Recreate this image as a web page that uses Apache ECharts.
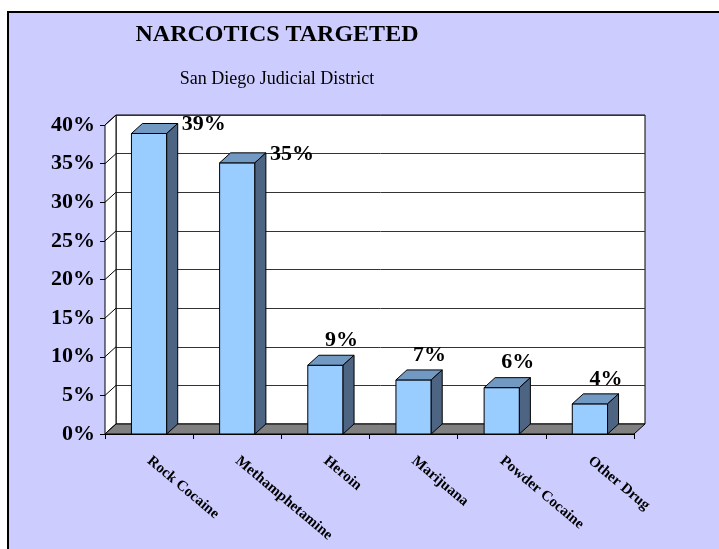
<!DOCTYPE html>
<html>
<head>
<meta charset="utf-8">
<script src="https://cdn.jsdelivr.net/npm/echarts@6/dist/echarts.min.js"></script>
<style>
html, body { margin: 0; padding: 0; background: #fff; }
#chart { width: 719px; height: 549px; }
</style>
</head>
<body>
<div id="chart"></div>
<script>
var categories = ['Rock Cocaine', 'Methamphetamine', 'Heroin', 'Marijuana', 'Powder Cocaine', 'Other Drug'];
var shares = [38.9, 35.1, 8.9, 7.0, 6.0, 3.9];
var yMin = 0, yMax = 40, yStep = 5;

// depth of the fake 3d box, in pixels
var DX = 11, DY = 10;
var SERIF = '"Liberation Serif", "Times New Roman", serif';

var chart = echarts.init(document.getElementById('chart'));

function renderWalls(params, api) {
	var cs = params.coordSys;
	var x0 = cs.x, x1 = cs.x + cs.width;
	var yt = cs.y, yb = cs.y + cs.height;
	var kids = [];
	// left wall
	kids.push({
		type : 'polygon',
		shape : { points : [ [x0, yb], [x0, yt], [x0 + DX, yt - DY], [x0 + DX, yb - DY] ] },
		style : { fill : '#fff', stroke : '#000', lineWidth : 1 }
	});
	for (var v = yMin; v <= yMax; v += yStep) {
		var y = api.coord([0, v])[1];
		kids.push({
			type : 'line',
			shape : { x1 : x0, y1 : y, x2 : x0 + DX, y2 : y - DY },
			style : { stroke : '#000', lineWidth : 1 }
		});
	}
	// floor
	kids.push({
		type : 'polygon',
		shape : { points : [ [x0, yb], [x0 + DX, yb - DY], [x1 + DX, yb - DY], [x1, yb] ] },
		style : { fill : '#808080', stroke : '#000', lineWidth : 1 }
	});
	return { type : 'group', children : kids };
}

function renderBar(params, api) {
	var v = api.value(1);
	var base = api.coord([api.value(0), 0]);
	var top = api.coord([api.value(0), v]);
	var w = api.size([1, 0])[0] * 0.4;
	var l = base[0] - w / 2, r = base[0] + w / 2;
	var yb = base[1], yt = top[1];
	var lbl;
	if (v > 30) {
		// tall bars: label sits beside the top
		lbl = { x : r + DX + 4, y : yt - 9, align : 'left' };
	} else {
		lbl = { x : base[0] + 16, y : yt - 25, align : 'center' };
	}
	return {
		type : 'group',
		children : [ {
			type : 'rect',
			shape : { x : l, y : yt, width : w, height : yb - yt },
			style : { fill : '#99CCFF', stroke : '#000', lineWidth : 1 }
		}, {
			type : 'polygon',
			shape : { points : [ [l, yt], [l + DX, yt - DY], [r + DX, yt - DY], [r, yt] ] },
			style : { fill : '#7199C2', stroke : '#000', lineWidth : 1 }
		}, {
			type : 'polygon',
			shape : { points : [ [r, yt], [r + DX, yt - DY], [r + DX, yb - DY], [r, yb] ] },
			style : { fill : '#4D6482', stroke : '#000', lineWidth : 1 }
		}, {
			type : 'text',
			style : {
				text : Math.round(v) + '%',
				x : lbl.x,
				y : lbl.y,
				align : lbl.align,
				verticalAlign : 'middle',
				font : 'bold 22px ' + SERIF,
				fill : '#000'
			}
		} ]
	};
}

var barData = categories.map(function(c, i) { return [i, shares[i]]; });

var option = {
	animation : false,
	graphic : [ {
		type : 'rect',
		z : -10,
		shape : { x : 8, y : 12, width : 760, height : 600 },
		style : { fill : '#CCCCFF', stroke : '#000', lineWidth : 2 }
	} ],
	title : [ {
		text : 'NARCOTICS TARGETED',
		left : 272,
		top : 18,
		textAlign : 'center',
		textStyle : { fontFamily : SERIF, fontWeight : 'bold', fontSize : 24, color : '#000' }
	}, {
		text : 'San Diego Judicial District',
		left : 272,
		top : 65,
		textAlign : 'center',
		textStyle : { fontFamily : SERIF, fontWeight : 'normal', fontSize : 18, color : '#000' }
	} ],
	grid : [ {
		left : 105, right : 85, top : 125, bottom : 115
	}, {
		// back wall
		left : 116, right : 74, top : 115, bottom : 125,
		show : true, backgroundColor : '#fff', borderColor : '#000', borderWidth : 1
	} ],
	xAxis : [ {
		type : 'category',
		data : categories,
		gridIndex : 0,
		axisLine : { lineStyle : { color : '#000', width : 1 } },
		axisTick : { show : true, length : 5, lineStyle : { color : '#000' } },
		axisLabel : {
			interval : 0,
			rotate : -40,
			margin : 25,
			fontFamily : SERIF,
			fontWeight : 'bold',
			fontSize : 15,
			color : '#000'
		}
	}, {
		type : 'category',
		data : categories,
		gridIndex : 1,
		show : false
	} ],
	yAxis : [ {
		type : 'value',
		gridIndex : 0,
		min : yMin, max : yMax, interval : yStep,
		axisLine : { show : true, lineStyle : { color : '#000', width : 1 } },
		axisTick : { show : true, length : 5, lineStyle : { color : '#000' } },
		splitLine : { show : false },
		axisLabel : {
			formatter : '{value}%',
			margin : 10,
			fontFamily : SERIF,
			fontWeight : 'bold',
			fontSize : 22,
			color : '#000'
		}
	}, {
		type : 'value',
		gridIndex : 1,
		min : yMin, max : yMax, interval : yStep,
		axisLine : { show : false },
		axisTick : { show : false },
		axisLabel : { show : false },
		splitLine : { show : true, lineStyle : { color : '#333', width : 1 } }
	} ],
	series : [ {
		type : 'custom',
		name : 'walls',
		xAxisIndex : 0, yAxisIndex : 0,
		data : [ [0, 0] ],
		renderItem : renderWalls,
		silent : true,
		z : 1
	}, {
		type : 'custom',
		name : 'Narcotics',
		xAxisIndex : 0, yAxisIndex : 0,
		data : barData,
		encode : { x : 0, y : 1 },
		renderItem : renderBar,
		z : 2
	} ]
};

chart.setOption(option);
</script>
</body>
</html>
